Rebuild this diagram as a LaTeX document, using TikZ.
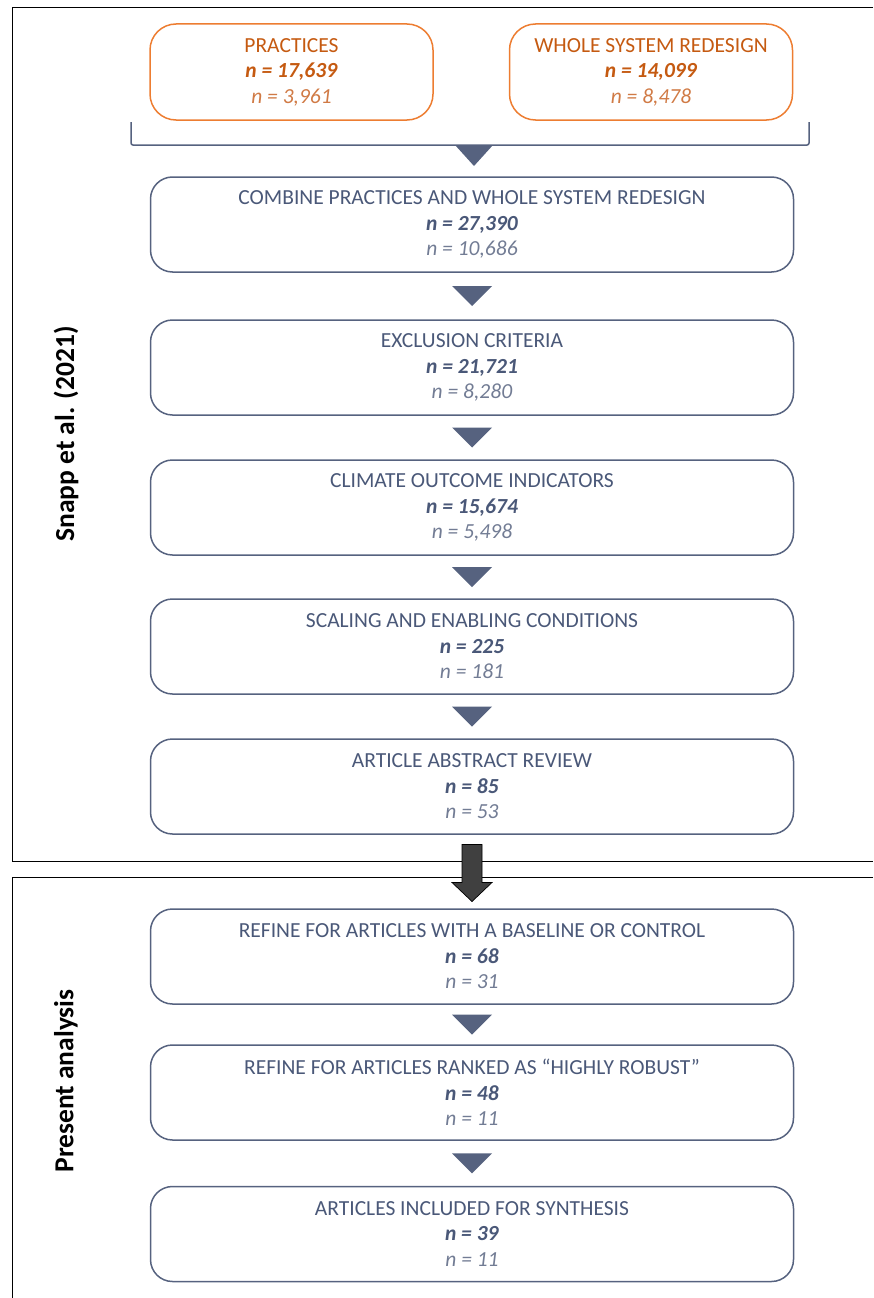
\documentclass[tikz,border=0pt]{standalone}
\usepackage{fontspec}
\setmainfont{Carlito}
\usetikzlibrary{calc}
\definecolor{slate}{HTML}{56627F}
\definecolor{slatetext}{HTML}{4A5878}
\definecolor{slatelight}{HTML}{727C94}
\definecolor{orangeline}{HTML}{ED7D31}
\definecolor{orangetext}{HTML}{C55A11}
\definecolor{orangelight}{HTML}{D07A45}
\definecolor{arrowgray}{HTML}{404040}

\tikzset{
  stepbox/.style={draw=slate, line width=1.5pt, rounded corners=22pt, minimum width=643pt,
    minimum height=95pt, align=center, text=slatetext, inner sep=0pt,
    font=\fontsize{21.5}{25.5}\selectfont},
  srcbox/.style={stepbox, draw=orangeline, text=orangetext, minimum width=283pt,
    minimum height=96pt, rounded corners=26pt},
  sidelabel/.style={rotate=90, font=\fontsize{27.5}{30}\selectfont\bfseries},
  frameline/.style={draw=black, line width=0.8pt},
  bigarrow/.style={draw=black, fill=arrowgray, line width=0.7pt}
}
\newcommand{\gaptri}[2]{\fill[slate] ($(#1.south)!.5!(#2.north)$) +(-20,-10) -- +(20,-10) -- +(0,10) -- cycle;}

\begin{document}
\begin{tikzpicture}[x=1pt, y=-1pt]
  \useasboundingbox (0,0) rectangle (873,1298);
  % frames
  \draw[frameline] (873,7) -- (12,7) -- (12,861) -- (873,861);
  \draw[frameline] (873,877) -- (12,877) -- (12,1298);
  \node[sidelabel] (snapp) at (66,434) {Snapp et al. (2021)};
  \node[sidelabel] (present) at (66,1081) {Present analysis};

  % sources
  \node[srcbox] (prac) at (291.5,72) {PRACTICES\\ \textbf{\textit{n = 17,639}}\\ {\color{orangelight}\textit{n = 3,961}}};
  \node[srcbox] (wsr) at (651,72) {WHOLE SYSTEM REDESIGN\\ \textbf{\textit{n = 14,099}}\\ {\color{orangelight}\textit{n = 8,478}}};
  \draw[slate, line width=1.5pt, rounded corners=2pt] (131,122) -- (131,145) -- (809,145) -- (809,122);
  \coordinate (brk) at (474,145);

  % steps
  \node[stepbox] (b1) at (472,224.5) {COMBINE PRACTICES AND WHOLE SYSTEM REDESIGN\\ \textbf{\textit{n = 27,390}}\\ {\color{slatelight}\textit{n = 10,686}}};
  \node[stepbox] (b2) at (472,367.5) {EXCLUSION CRITERIA\\ \textbf{\textit{n = 21,721}}\\ {\color{slatelight}\textit{n = 8,280}}};
  \node[stepbox] (b3) at (472,507.5) {CLIMATE OUTCOME INDICATORS\\ \textbf{\textit{n = 15,674}}\\ {\color{slatelight}\textit{n = 5,498}}};
  \node[stepbox] (b4) at (472,646.5) {SCALING AND ENABLING CONDITIONS\\ \textbf{\textit{n = 225}}\\ {\color{slatelight}\textit{n = 181}}};
  \node[stepbox] (b5) at (472,786.5) {ARTICLE ABSTRACT REVIEW\\ \textbf{\textit{n = 85}}\\ {\color{slatelight}\textit{n = 53}}};
  \node[stepbox] (b6) at (472,956.5) {REFINE FOR ARTICLES WITH A BASELINE OR CONTROL\\ \textbf{\textit{n = 68}}\\ {\color{slatelight}\textit{n = 31}}};
  \node[stepbox] (b7) at (472,1092.5) {REFINE FOR ARTICLES RANKED AS “HIGHLY ROBUST”\\ \textbf{\textit{n = 48}}\\ {\color{slatelight}\textit{n = 11}}};
  \node[stepbox] (b8) at (472,1234) {ARTICLES INCLUDED FOR SYNTHESIS\\ \textbf{\textit{n = 39}}\\ {\color{slatelight}\textit{n = 11}}};

  % connectors
  \fill[slate] (brk) +(-19,0) -- +(19,0) -- +(0,21) -- cycle;
  \gaptri{b1}{b2}
  \gaptri{b2}{b3}
  \gaptri{b3}{b4}
  \gaptri{b4}{b5}
  \draw[bigarrow] ($(b5.south)!.5!(b6.north)$) +(-10,-27) -- +(10,-27) -- +(10,11) -- +(20,11) -- +(0,30) -- +(-20,11) -- +(-10,11) -- cycle;
  \gaptri{b6}{b7}
  \gaptri{b7}{b8}
\end{tikzpicture}
\end{document}
